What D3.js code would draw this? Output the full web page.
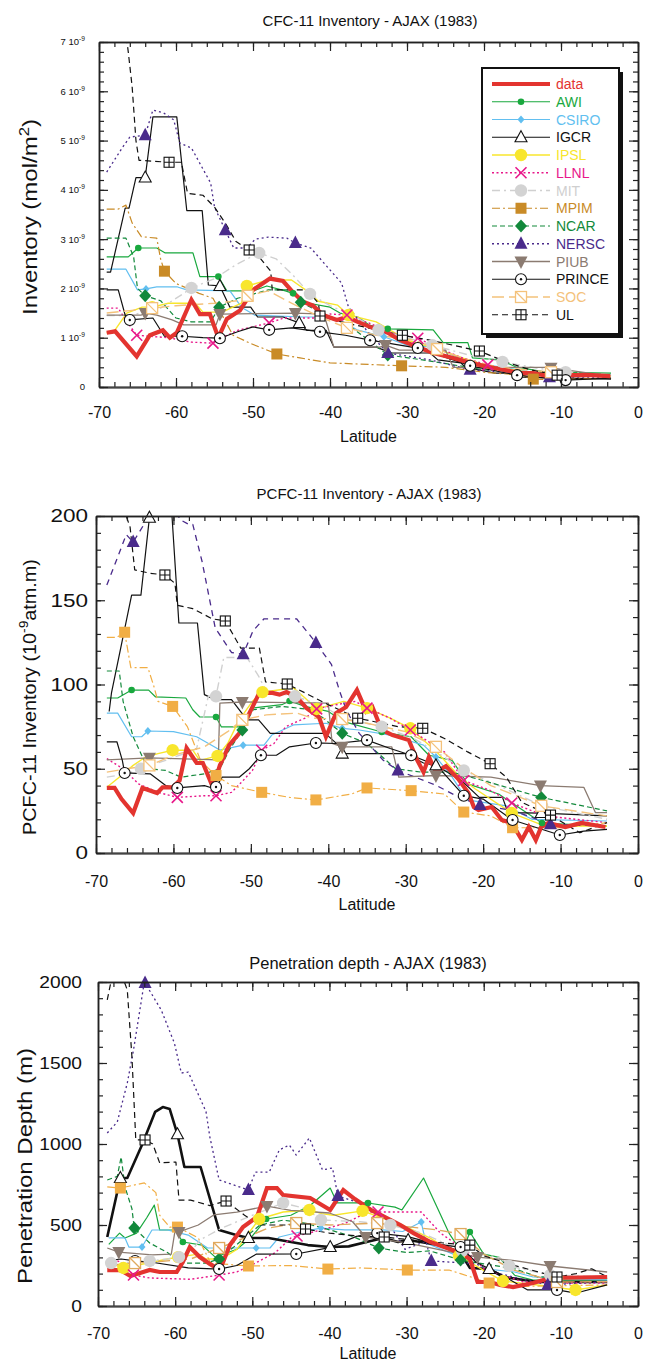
<!DOCTYPE html>
<html><head><meta charset="utf-8">
<script src="https://cdn.jsdelivr.net/npm/d3@7"></script>
<style>body{margin:0;background:#fff;} text{font-family:"Liberation Sans",Arial,Helvetica,sans-serif;}</style>
</head><body><script>
// ---------------- DATA ----------------
const modelNames = ["AWI","CSIRO","IGCR","IPSL","LLNL","MIT","MPIM","NCAR","NERSC","PIUB","PRINCE","SOC","UL"];
const latMajorTicks = [-70,-60,-50,-40,-30,-20,-10,0];
const cfcTicks = [0,1,2,3,4,5,6,7];          // units of 1e-9 mol/m2
const pcfcTicks = [0,50,100,150,200];
const penTicks = [0,500,1000,1500,2000];
// points: [latitude, value, marker?]
// ---- Panel 1: CFC-11 inventory (1e-9 mol/m2)
const cfc_data = [[-69,1.10],[-67.9,1.13],[-65.1,0.62],[-63.4,1.05],[-61.7,1.15],[-60.8,1.0],[-59.9,1.1],[-58,1.77],[-56.9,1.48],[-55.6,1.48],[-54.5,1.0],[-53.4,1.38],[-51.7,1.55],[-50,1.97],[-47.8,2.2],[-46.1,2.15],[-44.8,1.92],[-43.5,1.73],[-42.2,1.65],[-40.9,1.46],[-39.1,1.36],[-37.8,1.42],[-36.4,1.32],[-34.8,1.22],[-32.5,1.10],[-30.9,0.95],[-28.6,0.81],[-26.6,0.69],[-24,0.59],[-21.8,0.49],[-19.5,0.41],[-17.5,0.35],[-15.3,0.28],[-13.6,0.28],[-11,0.20],[-8.4,0.24],[-6.2,0.24],[-3.6,0.22]];
const cfc_AWI = [[-69,2.64],[-66.2,2.64],[-64.9,2.82,1],[-62.5,2.82],[-61.4,2.72],[-57.8,2.72],[-56.9,2.24],[-54.5,2.24,1],[-53.4,1.95],[-50,1.95],[-48.2,2.05],[-45.8,1.95],[-44.8,1.90,1],[-43.5,1.72],[-40,1.62],[-38.7,1.50],[-36.4,1.42],[-34.8,1.25],[-32.5,1.18,1],[-26.6,1.16],[-25.3,0.90],[-22.1,0.90],[-21.5,0.59],[-17.9,0.55],[-15.9,0.41],[-12,0.30],[-3.5,0.28]];
const cfc_CSIRO = [[-69,2.39],[-66.5,2.39],[-65,1.97],[-63.9,1.99,1],[-62.5,2.03],[-59.8,2.03],[-58.6,1.97],[-53,1.95],[-51.5,1.62],[-49.8,1.46],[-43.5,1.42],[-41,1.42],[-38.5,1.34],[-36.5,1.16],[-33,1.02,1],[-30,0.85],[-26.5,0.81],[-23.5,0.61],[-21.5,0.49],[-15.5,0.35],[-13,0.28],[-3.5,0.24]];
const cfc_IGCR = [[-69,2.33],[-68.5,2.33],[-66.6,3.63],[-66.1,3.63],[-65.2,4.25],[-64,4.25,1],[-63,5.48],[-59.9,5.48],[-58.6,3.58],[-56.6,3.58],[-55.8,2.07],[-54.3,2.05,1],[-53,1.62],[-50.3,1.62],[-49.4,1.42],[-46.1,1.42],[-44,1.30,1],[-43,1.15],[-40.5,1.15],[-39.5,0.81],[-34,0.81],[-32,0.69],[-27,0.69],[-26,0.55],[-23,0.49],[-22.5,0.41],[-18.6,0.28],[-16,0.28],[-15,0.20],[-3.5,0.16]];
const cfc_IPSL = [[-69,1.10],[-68,1.14],[-66.4,1.50],[-64.4,1.62],[-63.1,1.62,1],[-61,1.70],[-57.5,1.70],[-56.5,1.52],[-54,1.52],[-51.5,1.70],[-50.8,2.05,1],[-48,2.17],[-45,2.17],[-43,1.95],[-41.5,1.74],[-39,1.66],[-37.6,1.46,1],[-34,1.32],[-30,0.95],[-26.5,0.79],[-22.8,0.59],[-20,0.45],[-17,0.37],[-13.5,0.28],[-3.5,0.22]];
const cfc_LLNL = [[-69,1.60],[-67.5,1.60],[-66.5,1.35],[-65.1,1.05,1],[-61,1.00],[-58,0.91],[-55.2,0.89,1],[-54,1.0],[-52,1.15],[-47.9,1.30,1],[-46,1.40],[-42,1.40],[-40,1.48],[-37.8,1.46,1],[-35,1.30],[-32,1.10],[-28.6,0.99,1],[-26,0.80],[-23,0.60],[-19.5,0.45,1],[-16,0.30],[-12,0.25],[-3.5,0.22]];
const cfc_MIT = [[-69,1.45],[-66,1.45],[-62,1.6],[-59,1.9],[-58,2.01,1],[-55,2.2],[-52,2.5],[-49.2,2.72,1],[-47,2.6],[-45,2.3],[-42.6,1.89,1],[-40,1.65],[-37,1.45],[-33.7,1.16,1],[-30,1.0],[-26.7,0.85,1],[-22,0.65],[-17.6,0.51,1],[-13,0.38],[-9.4,0.30,1],[-3.5,0.25]];
const cfc_MPIM = [[-69,3.61],[-67.5,3.61],[-66.5,3.69],[-65.7,3.33],[-64.5,3.05],[-62.5,3.02],[-62,2.6],[-61.5,2.35,1],[-60,2.1],[-57,1.9],[-55.2,1.80],[-52.6,1.05],[-50.4,0.89],[-46.9,0.67,1],[-43.9,0.59],[-40,0.49],[-30.7,0.43,1],[-25,0.40],[-20,0.30],[-15,0.24],[-13.6,0.16,1],[-10,0.15],[-3.5,0.18]];
const cfc_NCAR = [[-69,3.02],[-66.5,3.02],[-65.5,2.64],[-65,2.0],[-64,1.85,1],[-62,1.75],[-60,1.40],[-58,1.32],[-55.5,1.32],[-54.4,1.62,1],[-52,1.80],[-48,1.97],[-45,1.97],[-43.8,1.72,1],[-41,1.50],[-38,1.30],[-35,0.95],[-32.5,0.65,1],[-28,0.55],[-24,0.45],[-20,0.35],[-15,0.30],[-3.5,0.25]];
const cfc_NERSC = [[-69,4.36],[-67,4.85],[-66,5.07],[-64,5.11,1],[-63,5.62],[-61.6,5.56],[-60.3,5.42],[-59.5,4.95],[-58,4.85],[-55.5,4.14],[-55,3.65],[-53.6,3.18,1],[-52.5,2.82],[-50.8,2.82],[-49.7,3.0],[-48,3.04],[-45.6,3.02],[-44.5,2.92,1],[-42.5,2.82],[-38.5,2.11],[-37.6,1.62],[-35,1.10],[-32.5,0.69,1],[-27,0.55],[-21.8,0.35,1],[-17,0.30],[-11.5,0.20,1],[-3.5,0.20]];
const cfc_PIUB = [[-69,1.46],[-64.5,1.46],[-64,1.50,1],[-62.5,1.46],[-60.5,1.36],[-59,1.26],[-54.8,1.26],[-54.3,1.48,1],[-44.5,1.50,1],[-40.8,1.48],[-39.5,0.81],[-33.5,0.81],[-32.8,0.85,1],[-31,0.75],[-25,0.75],[-24,0.40],[-12,0.40],[-11.3,0.39,1],[-3.5,0.22]];
const cfc_PRINCE = [[-69,1.97],[-67.5,1.97],[-66.5,1.40],[-66,1.36,1],[-63,1.40],[-61.5,1.03],[-59.2,1.03,1],[-56.5,1.0],[-54.3,0.99,1],[-52,1.12],[-50,1.22],[-47.9,1.16,1],[-45,1.2],[-41.3,1.12,1],[-38,1.05],[-34.8,0.95,1],[-28.6,0.79,1],[-24,0.55],[-21.8,0.43,1],[-15.7,0.24,1],[-9.4,0.14,1],[-3.5,0.18]];
const cfc_SOC = [[-69,1.5],[-66,1.55],[-63.1,1.60,1],[-60,1.65],[-55,1.7],[-52,1.75],[-50.7,1.85,1],[-48,1.95],[-45,1.7],[-41,1.40],[-37.8,1.20,1],[-34,1.05],[-29,0.95],[-26.1,0.77,1],[-22,0.55],[-18,0.40],[-11.3,0.30,1],[-3.5,0.22]];
const cfc_UL = [[-66.6,7.3],[-66.2,6.8],[-65.7,6.1],[-65.2,5.0],[-64.8,4.6],[-60.9,4.56,1],[-59.3,4.56],[-58.5,3.93],[-56.5,3.89],[-55,3.65],[-53.5,3.3],[-52.2,2.95],[-50.5,2.78,1],[-49,2.6],[-47.7,2.35],[-47.5,1.97],[-43,1.97],[-41.5,1.70],[-41.3,1.44,1],[-38,1.30],[-30.6,1.05,1],[-27,0.95],[-20.6,0.73,1],[-17,0.50],[-14,0.35],[-10.5,0.24,1],[-3.5,0.22]];
// ---- Panel 2: PCFC-11 inventory (1e-9 atm.m)
const pcfc_data = [[-68.6,38.6],[-67.6,38.6],[-66.7,32],[-65.2,23.7],[-64,38.6],[-62.1,35.6],[-61.4,39],[-60.1,39],[-59.2,43],[-58.3,62.3],[-57,53.4],[-56.2,53.4],[-54.9,39],[-54,52],[-52.8,64],[-51.5,71],[-49.8,86.6],[-48.9,95],[-47.2,95],[-46.3,94],[-45.4,95.5],[-44.1,92.6],[-42.8,86],[-41.2,80.7],[-40.3,69],[-39,83],[-37.7,86.6],[-36.3,96.7],[-35.1,84],[-34.3,86.6],[-33.1,73],[-31.7,70],[-29.6,67],[-28.5,55],[-27.7,48],[-27,57],[-26.1,48],[-24.8,51.6],[-23.2,43.9],[-21.9,35.6],[-21.2,27.3],[-20.6,25.5],[-18.9,27.3],[-17.6,19.6],[-16.3,17.8],[-15,7.7],[-14.1,15.4],[-13.2,7.7],[-12.5,15.4],[-11.6,17.8],[-9.4,15.4],[-7.3,17.8],[-4.2,15.4]];
const pcfc_AWI = [[-68.6,92],[-67.2,92],[-65.4,96.7,1],[-63.2,96.7],[-62.3,92.6],[-58.4,92],[-57.5,85],[-56.6,80.7],[-54.5,80.7,1],[-53.8,74.8],[-51.5,74.8],[-49.8,86],[-46,88],[-45,90.2,1],[-43,87],[-40,84],[-38,78],[-33.1,71.8,1],[-29.3,69],[-27,58],[-24,55],[-22,41],[-18,35],[-12.4,17.8,1],[-4,16]];
const pcfc_CSIRO = [[-68.6,83],[-67.2,83],[-65.4,69],[-64.1,69],[-63.3,72.4,1],[-60,72],[-57,69],[-54,61.1],[-51,64,1],[-48.3,64],[-47.3,70],[-44.5,76],[-40.3,77],[-38.2,74,1],[-36,73],[-32,70],[-27.7,64],[-26.1,57,1],[-24,45],[-22.1,31.5],[-17,28],[-13.7,20],[-4,19]];
const pcfc_IGCR = [[-68.3,84],[-68,95],[-65.4,153],[-64.2,153],[-63.1,199,1],[-62.2,201],[-60.2,201],[-59.3,136.5],[-56.9,136.5],[-56,94],[-54.6,91],[-52.5,91],[-50.5,79],[-49,79],[-47.5,71],[-40.4,71],[-38.7,64],[-38.2,59,1],[-30,59],[-27.7,53.4],[-26.1,52,1],[-22.8,43],[-20.5,33],[-17.5,33],[-16.8,24],[-12.5,23.7,1],[-4,22]];
const pcfc_IPSL = [[-68.6,39],[-67,45],[-65.2,52],[-63.6,57],[-62,59],[-60.1,61,1],[-57.5,61],[-56.6,55],[-54.3,57.6,1],[-53,65],[-51.5,79],[-49.8,90],[-48.5,95.5,1],[-46,97],[-44.5,98],[-43,92],[-41.5,85.5,1],[-38,90],[-35,86,1],[-32,80],[-29.4,74,1],[-26,60],[-23,45],[-21,38],[-16.3,23.7,1],[-12,16],[-4,16]];
const pcfc_LLNL = [[-68.6,56],[-66.5,50],[-64.5,41],[-62,36],[-59.5,33,1],[-56,34],[-54.5,34,1],[-52.5,36],[-51,43],[-49.8,49],[-48.6,61,1],[-47,65],[-45.5,75],[-43,80],[-41.5,85.5,1],[-39,88],[-36.5,90],[-35,86,1],[-32,80],[-29.4,73,1],[-25,60],[-22.5,43,1],[-19,37],[-16.3,29.7,1],[-12,22],[-4,18]];
const pcfc_MIT = [[-68.6,45],[-66,47],[-64.2,50,1],[-61,55],[-58,60],[-57,62],[-55.5,93],[-54.5,93,1],[-53.5,116],[-50.5,116],[-49,105],[-48,96],[-44.3,93,1],[-41,88],[-38,80],[-33.1,75,1],[-29,68],[-26,60],[-22.5,49,1],[-18,40],[-12.4,28,1],[-4,20]];
const pcfc_MPIM = [[-68.6,128],[-67.3,128],[-66.3,131,1],[-65.5,110],[-63.3,110],[-62.5,98.5],[-62,90],[-60.1,87,1],[-58.2,75],[-56.5,55],[-55,48],[-54.5,46,1],[-52.5,40],[-48.6,36,1],[-45,33],[-41.6,31.5,1],[-37,35],[-35,38.6,1],[-29.3,37,1],[-25,35],[-22.5,24.3,1],[-19,22],[-16.2,15,1],[-10,15],[-4,18]];
const pcfc_NCAR = [[-68.6,108],[-67,108],[-66.5,90],[-65.2,69],[-64,57],[-63.3,50],[-61,49],[-59,45],[-56,47],[-54,50],[-52.8,61],[-51.1,73,1],[-49.7,85],[-46,87],[-42,85],[-38.2,71,1],[-35,65],[-31.3,50],[-28,48],[-24,48],[-20,43],[-12.5,33,1],[-4,25]];
const pcfc_NERSC = [[-68.6,159],[-67,178],[-66.1,189],[-65.2,184.5,1],[-63.4,198],[-62,210],[-60,210],[-59.2,198],[-58,195],[-57.5,195],[-56.3,173],[-54.6,133.5],[-52.5,119],[-51,118,1],[-49.7,132],[-48.3,139],[-44.1,139],[-42.5,130],[-41.6,124.6,1],[-39.6,112],[-38.6,97],[-37.7,85],[-36,71],[-32.9,55],[-31,49,1],[-26,40],[-23.1,33],[-20.4,28.5,1],[-16,25],[-11.3,17,1],[-4,16]];
const pcfc_PIUB = [[-68.6,55.3],[-63.1,56.5,1],[-54.2,55.3],[-54,89],[-51.1,89.6,1],[-40,89],[-39.5,65],[-38.2,63,1],[-31.8,63],[-30.9,45],[-26.1,46,1],[-19,45],[-12.6,40,1],[-7,39],[-5.5,24],[-4,24]];
const pcfc_PRINCE = [[-68.6,66],[-67.3,66],[-66.6,55],[-66.3,47.5,1],[-63,47],[-61,40],[-59.5,38.6,1],[-56,40],[-55.3,39],[-54.5,39.2,1],[-53.7,45],[-51.5,45],[-50.2,50],[-48.7,58,1],[-46.7,58],[-45,63],[-41.6,65.3,1],[-39,65],[-35,67,1],[-32,62],[-29.3,58,1],[-26,52],[-22.5,34,1],[-20,32],[-16.2,19.6,1],[-10.1,10.7,1],[-7,13],[-4,14]];
const pcfc_SOC = [[-68.6,48],[-66,50],[-63.1,52,1],[-60,58],[-56,63],[-53,72],[-51.1,79,1],[-48,82],[-44,83],[-42,80],[-38.2,79.5,1],[-35,77],[-30,72],[-26.1,63,1],[-23,52],[-19,40],[-12.5,28,1],[-4,22]];
const pcfc_UL = [[-66.5,205],[-65.6,193.5],[-65,168],[-63,166],[-61.1,165,1],[-59.8,160],[-59.5,147],[-57.5,145],[-55,139],[-53.3,137.7,1],[-51.3,121.6],[-48.9,121.6],[-48.1,101.5],[-45.3,100.3,1],[-43,95],[-40,88],[-36.2,80,1],[-31,75],[-27.8,74,1],[-25,68],[-22,60],[-19.1,53,1],[-17,45],[-15,30],[-11.3,22.5,1],[-7.5,12],[-4,18]];
// ---- Panel 3: penetration depth (m)
const pen_data = [[-68.8,222],[-67.1,222],[-65.8,185],[-63.3,222],[-62,210],[-59.8,210],[-59,272],[-58.1,364],[-56.8,302],[-55.5,260],[-54.2,222],[-52.9,376],[-51.2,488],[-49.4,549],[-48.1,728],[-46.8,728],[-46,685],[-42.5,667],[-39.9,593],[-38.2,716],[-36.7,660],[-34.5,590],[-30.8,500],[-29.1,450],[-26.9,395],[-23,327],[-21.8,290],[-20.8,148],[-19.2,148],[-17.9,130],[-16.2,117],[-13.6,142],[-11.4,173],[-4,179]];
const pen_AWI = [[-68.6,380],[-67.2,450],[-66.5,420],[-65,450],[-63.7,543],[-62.7,623],[-62,469],[-60,469],[-59,395,1],[-56.5,376],[-54.8,302],[-52,350],[-50.1,426],[-48.2,537,1],[-45,560],[-42.5,620],[-39.9,728],[-39,636],[-35,636,1],[-31.5,610],[-30.6,593],[-27.8,790],[-24.5,450],[-22.8,327],[-21.8,457,1],[-20,320],[-18,300],[-16,190],[-13.6,160],[-4,160]];
const pen_CSIRO = [[-68.6,420],[-66.5,420],[-66,364],[-64.3,364,1],[-63,469],[-61,469],[-58.3,438],[-55.8,358],[-49.5,358,1],[-47.7,358],[-46.5,426],[-43.8,457],[-41.1,481,1],[-38,470],[-33,470],[-30.5,460],[-28.1,518,1],[-27.5,389],[-23,302],[-21.8,240],[-16,210],[-13.6,179],[-4,160]];
const pen_IGCR = [[-68.8,426],[-67.1,790,1],[-66.2,790],[-64.3,994],[-62.6,1198],[-61.6,1228],[-60.7,1216],[-59.7,1060,1],[-58.8,858],[-56.7,858],[-54.3,469],[-52.2,440],[-50.5,420,1],[-47.9,420],[-42.8,376],[-39.9,364,1],[-37.5,368],[-35.2,395],[-33,420],[-31.1,395],[-29.8,407,1],[-25,370],[-23,327],[-21.8,235],[-19.3,228,1],[-17.4,179],[-13,148],[-4,148]];
const pen_IPSL = [[-68.6,265],[-66.7,235,1],[-63,270],[-61,290],[-59.6,302,1],[-57,320],[-56,290],[-54,290],[-52,350],[-50,480],[-49.1,537,1],[-46,580],[-42.6,593,1],[-41,570],[-39.5,560],[-35.7,587,1],[-33,540],[-30.8,505],[-27,420],[-23.2,309,1],[-20,220],[-17.5,154,1],[-13,130],[-8.1,99,1],[-4,130]];
const pen_LLNL = [[-68.6,296],[-67,270],[-65.4,191,1],[-63.3,173],[-58,165],[-54.3,191,1],[-52,210],[-49.8,260],[-47,330],[-45,420],[-44.2,432,1],[-41,470],[-38,510],[-35,580],[-33.7,580,1],[-28.1,580],[-25.6,450],[-22,330],[-20,230],[-15,150],[-11,142],[-4,142]];
const pen_MIT = [[-68.6,265],[-68.3,265,1],[-65,270],[-63.3,278,1],[-61,290],[-59.5,302,1],[-58,330],[-56.8,407],[-54,480],[-50,560],[-46,636,1],[-43,600],[-41.1,531,1],[-36,520],[-32.1,500,1],[-28,450],[-22.8,340,1],[-18,300],[-16.7,247,1],[-11.4,191,1],[-4,180]];
const pen_MPIM = [[-68.8,735],[-67.1,728,1],[-64,760],[-62.5,700],[-62,560],[-60.7,487],[-59.7,487,1],[-57,420],[-55.4,265],[-50.5,247,1],[-45,250],[-40.2,228,1],[-36,235],[-29.9,222,1],[-24.5,222],[-23,200],[-19.3,142,1],[-16.2,120],[-4,130]];
const pen_NCAR = [[-68.8,778],[-67.5,800],[-67,920],[-66.5,735],[-65.6,600],[-65.3,481,1],[-63.3,389],[-61,330],[-59.3,265],[-56,265],[-54.3,290,1],[-52,380],[-49,500],[-46,530],[-43,510],[-40,470],[-37,430],[-33.6,358,1],[-30,330],[-27,340],[-23,284,1],[-20,260],[-16,230],[-13,180],[-4,170]];
const pen_NERSC = [[-68.8,1068],[-67.5,1136],[-66.2,1377],[-65.4,1580],[-64.1,1969],[-63.9,1994,1],[-61.8,1827],[-60.1,1623],[-59.2,1438],[-58.3,1444],[-56,1200],[-55.5,1043],[-54.3,778],[-50.5,716,1],[-49.6,827],[-47.8,827],[-46.5,963],[-45.2,994],[-44.3,932],[-42.6,1037],[-40.9,840],[-39.6,852],[-38.9,679,1],[-36.3,640],[-33,560],[-30.2,350],[-27.5,400],[-26.8,278,1],[-24,270],[-21,260],[-18,200],[-11.7,130,1],[-4,150]];
const pen_PIUB = [[-68.8,358],[-67.3,333,1],[-63,315],[-60.5,320],[-60,469],[-59.5,457,1],[-57,500],[-55,562],[-52,580],[-48.1,617,1],[-45,590],[-40,574],[-37,520],[-35.3,426,1],[-30,390],[-25,340],[-20.8,302,1],[-16,280],[-11.4,247,1],[-4,210]];
const pen_PRINCE = [[-68.8,280],[-67,290],[-65.2,278,1],[-63,270],[-58.3,235],[-54.3,228,1],[-52,250],[-49.5,320],[-44.3,321,1],[-40,360],[-36.5,430],[-33.8,450,1],[-30,430],[-26,380],[-23,364,1],[-21,270],[-18,200],[-14.3,99],[-10.5,99,1],[-8,80],[-4,130]];
const pen_SOC = [[-68.8,250],[-65.2,265,1],[-62,275],[-58,290],[-54.3,358,1],[-51,420],[-48,480],[-44.3,512,1],[-40,500],[-33.8,512,1],[-30,490],[-26,470],[-23,444,1],[-20,320],[-16,220],[-10.5,148,1],[-4,150]];
const pen_UL = [[-68.8,1889],[-68.2,2030],[-66.8,2030],[-66.2,1950],[-65.6,1537],[-65.1,1025],[-63.9,1025,1],[-62.9,1000],[-62,883],[-59.9,889],[-59.5,654],[-58,654],[-55.5,620],[-53.4,648,1],[-51,560],[-49,500],[-45,500],[-43.1,475,1],[-40,450],[-36,430],[-32.9,426,1],[-28,400],[-21.8,376,1],[-20,310],[-16,250],[-10.5,179,1],[-8,200],[-6,230],[-4,180]];

// ---------------- STYLE ----------------
const S = {
  data:{c:"#e3342f",w:4.2,d:null,m:null},
  AWI:{c:"#19a83e",w:1.2,d:null,m:"dot"},
  CSIRO:{c:"#62bff0",w:1.2,d:null,m:"sdiam"},
  IGCR:{c:"#111",w:1.2,d:null,m:"otri"},
  IPSL:{c:"#f8e62c",w:1.4,d:null,m:"bcirc"},
  LLNL:{c:"#e8188a",w:1.4,d:"2,2.5",m:"x"},
  MIT:{c:"#d0d0d0",w:1.4,d:"8,4,2,4",m:"gcirc"},
  MPIM:{c:"#c98b27",w:1.2,d:"8,3,2,3",m:"sq"},
  NCAR:{c:"#12893b",w:1.2,d:"5,3",m:"diam"},
  NERSC:{c:"#4a2b8b",w:1.3,d:"2,3",m:"tup"},
  PIUB:{c:"#8b7b71",w:1.3,d:null,m:"tdn"},
  PRINCE:{c:"#111",w:1.2,d:null,m:"ocdot"},
  SOC:{c:"#f4c27b",w:1.4,d:"12,5",m:"sqdiag"},
  UL:{c:"#111",w:1.2,d:"6,4",m:"sqplus"}
};

const svg = d3.select("body").append("svg").attr("width",648).attr("height",1365);

function drawMarker(g, type, x, y, c){
  switch(type){
    case "dot": g.append("circle").attr("cx",x).attr("cy",y).attr("r",3.3).attr("fill",c); break;
    case "sdiam": g.append("path").attr("d",`M${x},${y-4}L${x+3.5},${y}L${x},${y+4}L${x-3.5},${y}Z`).attr("fill",c); break;
    case "otri": g.append("path").attr("d",`M${x},${y-6.5}L${x+6},${y+4.5}L${x-6},${y+4.5}Z`).attr("fill","#fff").attr("stroke","#111").attr("stroke-width",1.1); break;
    case "bcirc": g.append("circle").attr("cx",x).attr("cy",y).attr("r",6.2).attr("fill",c); break;
    case "gcirc": g.append("circle").attr("cx",x).attr("cy",y).attr("r",6.2).attr("fill","#d3d3d3"); break;
    case "x": g.append("path").attr("d",`M${x-5.5},${y-5.5}L${x+5.5},${y+5.5}M${x-5.5},${y+5.5}L${x+5.5},${y-5.5}`).attr("stroke",c).attr("stroke-width",1.6).attr("fill","none"); break;
    case "sq": g.append("rect").attr("x",x-5.5).attr("y",y-5.5).attr("width",11).attr("height",11).attr("fill",c); break;
    case "diam": g.append("path").attr("d",`M${x},${y-6.5}L${x+6},${y}L${x},${y+6.5}L${x-6},${y}Z`).attr("fill",c); break;
    case "tup": g.append("path").attr("d",`M${x},${y-7.5}L${x+6.5},${y+5}L${x-6.5},${y+5}Z`).attr("fill",c); break;
    case "tdn": g.append("path").attr("d",`M${x},${y+7.5}L${x+6.5},${y-5}L${x-6.5},${y-5}Z`).attr("fill",c); break;
    case "ocdot": g.append("circle").attr("cx",x).attr("cy",y).attr("r",5.5).attr("fill","#fff").attr("stroke","#111").attr("stroke-width",1.1);
                  g.append("circle").attr("cx",x).attr("cy",y).attr("r",1.2).attr("fill","#111"); break;
    case "sqdiag": g.append("rect").attr("x",x-5.5).attr("y",y-5.5).attr("width",11).attr("height",11).attr("fill","#fff").attr("stroke",c).attr("stroke-width",1.3);
                   g.append("path").attr("d",`M${x-5.5},${y-5.5}L${x+5.5},${y+5.5}`).attr("stroke",c).attr("stroke-width",1.3); break;
    case "sqplus": g.append("rect").attr("x",x-5).attr("y",y-5).attr("width",10).attr("height",10).attr("fill","#fff").attr("stroke","#111").attr("stroke-width",1.1);
                   g.append("path").attr("d",`M${x-5},${y}L${x+5},${y}M${x},${y-5}L${x},${y+5}`).attr("stroke","#111").attr("stroke-width",1.1); break;
  }
}

function txt(g, x, y, parts, size, o={}){
  let tr = `translate(${x},${y})`;
  if(o.rot) tr += ` rotate(${o.rot})`;
  if(o.sx) tr += ` scale(${o.sx},1)`;
  const t = g.append("text").attr("transform",tr).attr("font-size",size)
    .attr("text-anchor",o.anchor||"middle").attr("fill",o.fill||"#111");
  if(o.dy) t.attr("dy",o.dy);
  if(typeof parts==="string") parts=[{t:parts}];
  let shift=0;
  parts.forEach(p=>{
    const ts=t.append("tspan").text(p.t);
    if(p.sup){ ts.attr("font-size",size*0.7).attr("dy",-size*0.42); shift=size*0.42; }
    else if(shift){ ts.attr("dy",shift); shift=0; }
  });
  return t;
}

const panels = [
  {id:"p1", box:{l:99,r:638,t:42,b:387}, ymax:7, yMajor:cfcTicks, yMinorStep:0.2,
   series:{data:cfc_data,AWI:cfc_AWI,CSIRO:cfc_CSIRO,IGCR:cfc_IGCR,IPSL:cfc_IPSL,LLNL:cfc_LLNL,MIT:cfc_MIT,MPIM:cfc_MPIM,NCAR:cfc_NCAR,NERSC:cfc_NERSC,PIUB:cfc_PIUB,PRINCE:cfc_PRINCE,SOC:cfc_SOC,UL:cfc_UL},
   over:{}, title:"CFC-11 Inventory - AJAX (1983)", tx:370, ty:26, tsize:15,
   ylab:[{t:"Inventory (mol/m"},{t:"2",sup:true},{t:")"}], ylx:37, yly:217, ylsize:20, ylsx:1.2,
   ytickSize:9.5, ytickX:85, yfmt:d=> d===0?[{t:"0"}]:[{t:d+" 10"},{t:"-9",sup:true}], ytsx:1,
   xlabY:442, xtickPad:20},
  {id:"p2", box:{l:96,r:638,t:516,b:853}, ymax:200, yMajor:pcfcTicks, yMinorStep:10,
   series:{data:pcfc_data,AWI:pcfc_AWI,CSIRO:pcfc_CSIRO,IGCR:pcfc_IGCR,IPSL:pcfc_IPSL,LLNL:pcfc_LLNL,MIT:pcfc_MIT,MPIM:pcfc_MPIM,NCAR:pcfc_NCAR,NERSC:pcfc_NERSC,PIUB:pcfc_PIUB,PRINCE:pcfc_PRINCE,SOC:pcfc_SOC,UL:pcfc_UL},
   over:{MPIM:{c:"#f1ae45"},NERSC:{d:"6,5"}}, title:"PCFC-11 Inventory - AJAX (1983)", tx:369, ty:499, tsize:15,
   ylab:[{t:"PCFC-11 Inventory (10"},{t:"-9",sup:true},{t:"atm.m)"}], ylx:36, yly:697, ylsize:18, ylsx:1.1,
   ytickSize:18, ytickX:88, yfmt:d=>[{t:String(d)}], ytsx:1.25,
   xlabY:910, xtickPad:23},
  {id:"p3", box:{l:98,r:638,t:982,b:1306}, ymax:2000, yMajor:penTicks, yMinorStep:100,
   series:{data:pen_data,AWI:pen_AWI,CSIRO:pen_CSIRO,IGCR:pen_IGCR,IPSL:pen_IPSL,LLNL:pen_LLNL,MIT:pen_MIT,MPIM:pen_MPIM,NCAR:pen_NCAR,NERSC:pen_NERSC,PIUB:pen_PIUB,PRINCE:pen_PRINCE,SOC:pen_SOC,UL:pen_UL},
   over:{MPIM:{c:"#f1ae45"},IGCR:{w:2.6},SOC:{c:"#e0a95e"}}, title:"Penetration depth - AJAX (1983)", tx:368, ty:969, tsize:16.5,
   ylab:"Penetration Depth (m)", ylx:32, yly:1166, ylsize:20, ylsx:1.2,
   ytickSize:16, ytickX:82, yfmt:d=>[{t:String(d)}], ytsx:1.2,
   xlabY:1359, xtickPad:22}
];

panels.forEach(P=>{
  const b=P.box;
  const g=svg.append("g");
  const x=d3.scaleLinear().domain([-70,0]).range([b.l,b.r]);
  const y=d3.scaleLinear().domain([0,P.ymax]).range([b.b,b.t]);
  svg.append("clipPath").attr("id","clip"+P.id).append("rect").attr("x",b.l).attr("y",b.t).attr("width",b.r-b.l).attr("height",b.b-b.t);
  const st = k => Object.assign({}, S[k], P.over[k]||{});
  const line = d3.line().x(d=>x(d[0])).y(d=>y(d[1]));
  const lg = g.append("g").attr("clip-path",`url(#clip${P.id})`);
  modelNames.forEach(k=>{
    const s=st(k);
    lg.append("path").attr("d",line(P.series[k])).attr("fill","none").attr("stroke",s.c)
      .attr("stroke-width",s.w).attr("stroke-dasharray",s.d).attr("stroke-linejoin","round");
  });
  lg.append("path").attr("d",line(P.series.data)).attr("fill","none").attr("stroke",S.data.c)
    .attr("stroke-width",S.data.w).attr("stroke-linejoin","miter").attr("stroke-miterlimit",3);
  const mg = g.append("g");
  modelNames.forEach(k=>{
    const s=st(k);
    P.series[k].filter(d=>d[2]).forEach(d=>drawMarker(mg,s.m,x(d[0]),y(Math.min(d[1],P.ymax)),s.c));
  });
  // axes (ticks point inward)
  const minorY = d3.range(0,P.ymax+1e-9,P.yMinorStep);
  const minorX = d3.range(-70,0.01,2);
  const ag = g.append("g").attr("class","axes");
  const add = (ax,tr)=>{ const a=ag.append("g").attr("transform",tr).call(ax); a.selectAll("path.domain").attr("stroke","#222").attr("stroke-width",1.5); a.selectAll("line").attr("stroke","#222").attr("stroke-width",1.2); return a;};
  add(d3.axisBottom(x).tickValues(minorX).tickSize(-5).tickSizeOuter(0).tickFormat(""),`translate(0,${b.b})`);
  const xb = add(d3.axisBottom(x).tickValues(latMajorTicks).tickSize(-9).tickSizeOuter(0).tickPadding(P.xtickPad).tickFormat(d=>String(d)),`translate(0,${b.b})`);
  xb.selectAll("path.domain").attr("stroke","#444").attr("stroke-width",2.2);
  xb.selectAll("text").attr("font-size",16).attr("fill","#111").attr("font-family","Liberation Sans, Arial, sans-serif");
  add(d3.axisTop(x).tickValues(minorX).tickSize(-5).tickSizeOuter(0).tickFormat(""),`translate(0,${b.t})`);
  add(d3.axisTop(x).tickValues(latMajorTicks).tickSize(-9).tickSizeOuter(0).tickFormat(""),`translate(0,${b.t})`);
  add(d3.axisLeft(y).tickValues(minorY).tickSize(-5).tickSizeOuter(0).tickFormat(""),`translate(${b.l},0)`);
  add(d3.axisLeft(y).tickValues(P.yMajor).tickSize(-9).tickSizeOuter(0).tickFormat(""),`translate(${b.l},0)`);
  add(d3.axisRight(y).tickValues(minorY).tickSize(-5).tickSizeOuter(0).tickFormat(""),`translate(${b.r},0)`);
  add(d3.axisRight(y).tickValues(P.yMajor).tickSize(-9).tickSizeOuter(0).tickFormat(""),`translate(${b.r},0)`);
  // y tick labels
  P.yMajor.forEach(v=>{
    txt(g, P.ytickX, y(v), P.yfmt(v), P.ytickSize, {anchor:"end", dy:"0.36em", sx:P.ytsx});
  });
  // titles and axis labels
  txt(g, P.tx, P.ty, P.title, P.tsize);
  txt(g, (b.l+b.r)/2, P.xlabY, "Latitude", 16);
  txt(g, P.ylx, P.yly, P.ylab, P.ylsize, {rot:-90, sx:P.ylsx});
});

// ---------------- LEGEND (panel 1) ----------------
const legendKeys = ["data"].concat(modelNames);
const leg = svg.append("g");
leg.append("rect").attr("x",486).attr("y",72).attr("width",137).attr("height",266).attr("fill","#111");
leg.append("rect").attr("x",482).attr("y",68).attr("width",137).attr("height",266).attr("fill","#fff").attr("stroke","#111").attr("stroke-width",2);
const legY = d3.scalePoint().domain(legendKeys).range([84, 84+13*17.75]);
legendKeys.forEach(k=>{
  const s=S[k], yy=legY(k);
  leg.append("line").attr("x1",492).attr("x2",550).attr("y1",yy).attr("y2",yy).attr("stroke",s.c)
    .attr("stroke-width",k==="data"?4.2:s.w).attr("stroke-dasharray",s.d);
  if(s.m) drawMarker(leg,s.m,521,yy,s.c);
  txt(leg,556,yy,k,14,{anchor:"start",dy:"0.36em",fill:k==="MIT"?"#cfcfcf":s.c});
});
</script></body></html>
